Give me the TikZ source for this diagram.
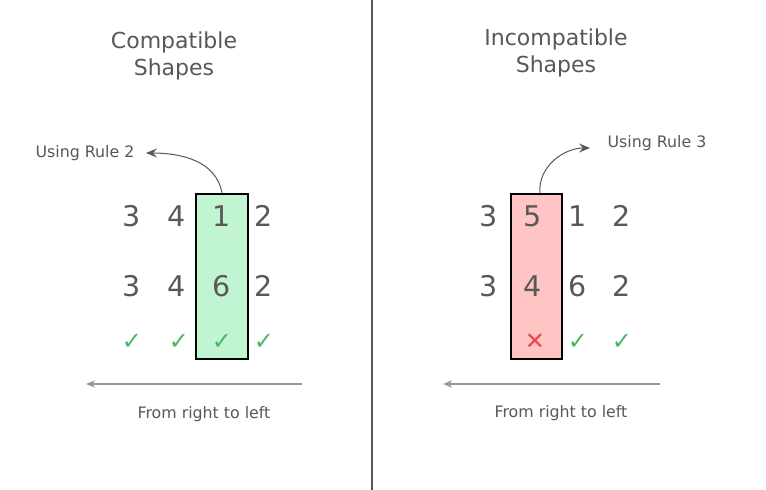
\documentclass[tikz,border=0pt]{standalone}
\usepackage{fontspec}
\setmainfont{DejaVu Sans}
\usetikzlibrary{arrows.meta}
\definecolor{txtgray}{RGB}{88,88,88}
\definecolor{linegray}{RGB}{150,150,150}
\definecolor{okgreen}{RGB}{72,184,102}
\definecolor{badred}{RGB}{236,72,82}
\definecolor{okfill}{RGB}{193,245,210}
\definecolor{badfill}{RGB}{255,196,196}
\tikzset{
    digit/.style={text=txtgray,font=\fontsize{28.5}{28}\selectfont,inner sep=0pt},
    checkmark/.style={text=okgreen,font=\fontsize{24}{24}\selectfont,inner sep=0pt},
    caption/.style={text=txtgray,font=\fontsize{15.8}{18}\selectfont,align=center},
    heading/.style={text=txtgray,font=\fontsize{22}{27}\selectfont,align=center},
    column/.style={draw=black,line width=1.8pt,minimum width=52pt,minimum height=165pt,inner sep=0pt}
}
\begin{document}
\begin{tikzpicture}[x=1pt,y=-1pt]
    \useasboundingbox (0,0) rectangle (766,490);
    \fill[white] (0,0) rectangle (766,490);
    \draw[txtgray,line width=1.4pt] (372,0) -- (372,490);

    % compatible
    \node[heading] (ctitle) at (174,56){Compatible\\Shapes};
    \node[column,fill=okfill] (cbox) at (222,276.5){};
    \node[digit] (c11) at (132,216){3};
    \node[digit] (c12) at (177,216){4};
    \node[digit] (c13) at (222,216){1};
    \node[digit] (c14) at (264,216){2};
    \node[digit] (c21) at (132,286){3};
    \node[digit] (c22) at (177,286){4};
    \node[digit] (c23) at (222,286){6};
    \node[digit] (c24) at (264,286){2};
    \node[checkmark] (cm1) at (132,342){✓};
    \node[checkmark] (cm2) at (179,342){✓};
    \node[checkmark] (cm3) at (222,342){✓};
    \node[checkmark] (cm4) at (264,342){✓};
    \node[caption] (crule) at (85,153){Using Rule 2};
    \coordinate (ctip) at (146,153);
    \draw[txtgray,line width=1pt,-{Stealth[length=11pt,width=9pt,inset=4pt]}] (cbox.north) to[out=100,in=0] (ctip);
    \coordinate (cstart) at (302,384);
    \coordinate (cend) at (86,384);
    \draw[linegray,line width=1.6pt,-{Stealth[length=9pt,width=7pt,inset=2.5pt]}] (cstart) -- (cend);
    \node[caption] (cdir) at (204,414){From right to left};

    % incompatible
    \node[heading] (ititle) at (556,53){Incompatible\\Shapes};
    \node[column,fill=badfill,minimum width=51pt] (ibox) at (536.5,276.5){};
    \node[digit] (i11) at (489,216){3};
    \node[digit] (i12) at (533,216){5};
    \node[digit] (i13) at (578,216){1};
    \node[digit] (i14) at (622,216){2};
    \node[digit] (i21) at (489,286){3};
    \node[digit] (i22) at (533,286){4};
    \node[digit] (i23) at (578,286){6};
    \node[digit] (i24) at (622,286){2};
    \node[checkmark,text=badred] (im2) at (535,342){✕};
    \node[checkmark] (im3) at (578,342){✓};
    \node[checkmark] (im4) at (622,342){✓};
    \node[caption] (irule) at (657,143){Using Rule 3};
    \coordinate (itip) at (590,148);
    \draw[txtgray,line width=1pt,-{Stealth[length=11pt,width=9pt,inset=4pt]}] ([xshift=3.5pt]ibox.north) to[out=95,in=180] (itip);
    \coordinate (istart) at (660,384);
    \coordinate (iend) at (443,384);
    \draw[linegray,line width=1.6pt,-{Stealth[length=9pt,width=7pt,inset=2.5pt]}] (istart) -- (iend);
    \node[caption] (idir) at (561,413){From right to left};
\end{tikzpicture}
\end{document}
